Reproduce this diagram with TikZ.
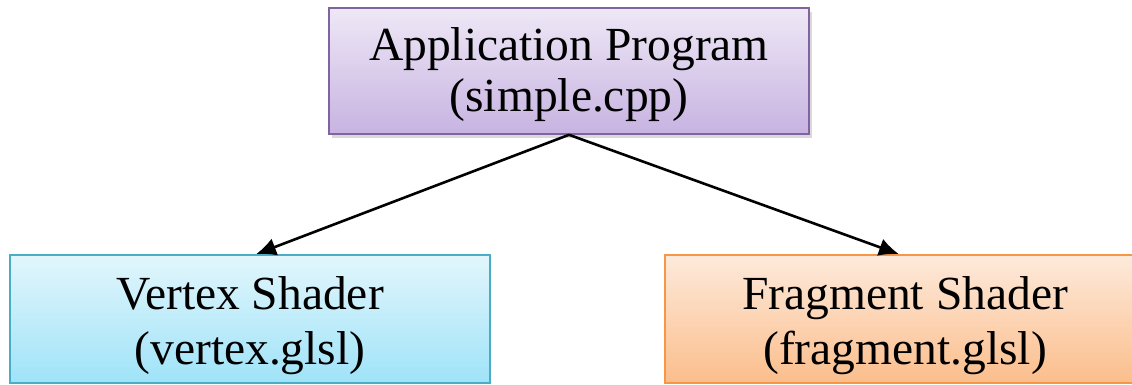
\documentclass[tikz,border=0pt]{standalone}
\usepackage{fontspec}
\setmainfont{Liberation Serif}
\usepackage{tikz}
\usetikzlibrary{arrows.meta,positioning,shadows}
\definecolor{appline}{HTML}{8064A2}
\definecolor{apptop}{HTML}{EEE8F6}
\definecolor{appbot}{HTML}{C7B3E1}
\definecolor{vertline}{HTML}{4BACC6}
\definecolor{verttop}{HTML}{E2F6FC}
\definecolor{vertbot}{HTML}{9FE3F8}
\definecolor{fragline}{HTML}{F79646}
\definecolor{fragtop}{HTML}{FDEADB}
\definecolor{fragbot}{HTML}{FBBE8C}
% strut that pushes the first line down
\newcommand{\topstrut}[1]{\rule{0pt}{#1}}

\begin{document}
\begin{tikzpicture}[
    node distance=124pt,
    >={Latex[length=10pt,width=9pt]},
    font=\fontsize{23.75}{25}\selectfont,
    stage/.style={
		rectangle,
		line width=0.8pt,
		align=center,
		inner sep=0pt,
		minimum width=240pt,
		minimum height=64pt
	},
	link/.style={
		line width=1.3pt
	}
  ]
    % bounding box of the page
  \useasboundingbox (-284.5pt,-157pt) rectangle (281.5pt,35.5pt);

    % the three blocks
  \node [stage, draw=appline, top color=apptop, bottom color=appbot,
         minimum height=63pt,
         font=\fontsize{23.75}{25.5}\selectfont,
         drop shadow={opacity=0.3, shadow xshift=1.5pt, shadow yshift=-2pt}] (app)
 {\topstrut{20.5pt}Application Program\\(simple.cpp)};

  \node [stage, below of=app, xshift=-159.5pt, draw=vertline,
         top color=verttop, bottom color=vertbot,
         font=\fontsize{23.75}{27.5}\selectfont] (vertex)
 {\topstrut{23pt}Vertex Shader\\(vertex.glsl)};

  \node [stage, below of=app, xshift=168pt, draw=fragline,
         top color=fragtop, bottom color=fragbot,
         font=\fontsize{23.75}{27.5}\selectfont] (fragment)
 {\topstrut{23pt}Fragment Shader\\(fragment.glsl)};

 \draw [link,->] (app.south) -- ([xshift=3pt]vertex.north);
 \draw [link,->] (app.south) -- ([xshift=-3pt]fragment.north);

\end{tikzpicture}
\end{document}
